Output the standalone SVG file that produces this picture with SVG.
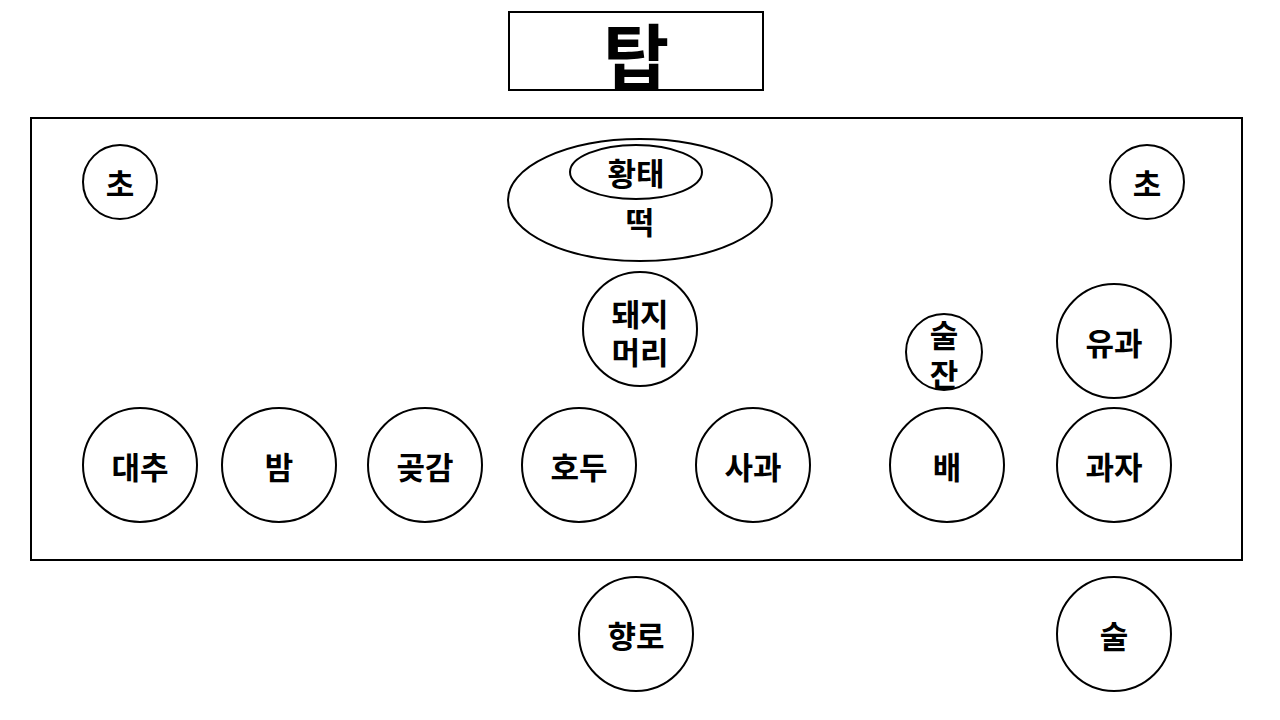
<svg xmlns="http://www.w3.org/2000/svg" width="1280" height="720" viewBox="0 0 1280 720">
<style>
.s{fill:#fff;stroke:#000;stroke-width:2}
.t{font-family:"Noto Sans CJK KR","Noto Sans",sans-serif;font-weight:bold;font-size:31px;fill:#000;text-anchor:middle;dominant-baseline:central}
</style>
<rect width="1280" height="720" fill="#fff"/>
<g id="title"><rect class="s" x="509" y="12" width="254" height="78"/><text class="t" x="636" y="52" style="font-size:72px">탑</text></g>
<g id="table"><rect class="s" x="31" y="118" width="1211" height="442"/></g>
<g id="cho-left"><circle class="s" cx="120" cy="182" r="37"/><text class="t" x="120" y="182">초</text></g>
<g id="cho-right"><circle class="s" cx="1147" cy="182" r="37"/><text class="t" x="1147" y="182">초</text></g>
<g id="tteok"><ellipse class="s" cx="640" cy="200" rx="132" ry="61"/><text class="t" x="640" y="220">떡</text></g>
<g id="hwangtae"><ellipse class="s" cx="636" cy="172" rx="66" ry="27"/><text class="t" x="636" y="171">황태</text></g>
<g id="dwaeji"><circle class="s" cx="640" cy="329" r="57"/><text class="t" x="640" y="312">돼지</text><text class="t" x="640" y="350">머리</text></g>
<g id="suljan"><circle class="s" cx="944" cy="352" r="38"/><text class="t" x="944" y="333">술</text><text class="t" x="944" y="372">잔</text></g>
<g id="yugwa"><circle class="s" cx="1114" cy="341" r="57"/><text class="t" x="1114" y="341">유과</text></g>
<g id="daechu"><circle class="s" cx="140" cy="465" r="57"/><text class="t" x="140" y="465">대추</text></g>
<g id="bam"><circle class="s" cx="279" cy="465" r="57"/><text class="t" x="279" y="465">밤</text></g>
<g id="gotgam"><circle class="s" cx="425" cy="465" r="57"/><text class="t" x="425" y="465">곶감</text></g>
<g id="hodu"><circle class="s" cx="579" cy="465" r="57"/><text class="t" x="579" y="465">호두</text></g>
<g id="sagwa"><circle class="s" cx="753" cy="465" r="57"/><text class="t" x="753" y="465">사과</text></g>
<g id="bae"><circle class="s" cx="947" cy="465" r="57"/><text class="t" x="947" y="465">배</text></g>
<g id="gwaja"><circle class="s" cx="1114" cy="465" r="57"/><text class="t" x="1114" y="465">과자</text></g>
<g id="hyangro"><circle class="s" cx="636" cy="634" r="57"/><text class="t" x="636" y="634">향로</text></g>
<g id="sul"><circle class="s" cx="1114" cy="634" r="57"/><text class="t" x="1114" y="634">술</text></g>
<g id="connectors"></g>
</svg>
